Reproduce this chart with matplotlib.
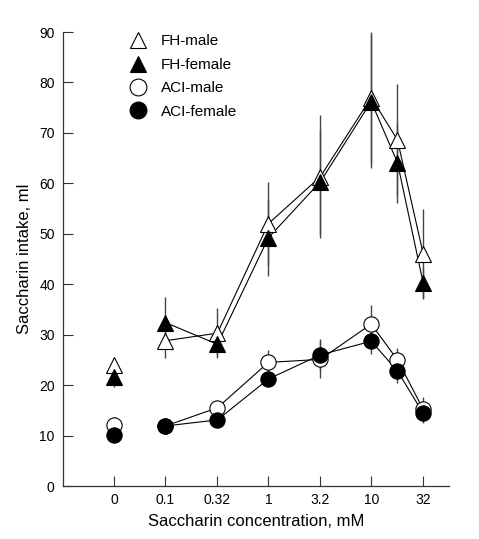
import numpy as np
import matplotlib
matplotlib.use("Agg")
import matplotlib.pyplot as plt

plt.rcParams['font.family'] = ['Liberation Sans', 'DejaVu Sans']

# Data
conc_labels = ["0", "0.1", "0.32", "1", "3.2", "10", "32"]
conc_ticks = [0, 0.1, 0.32, 1, 3.2, 10, 32]
conc = [0, 0.1, 0.32, 1, 3.2, 10, 18, 32]

fh_male = [24.0, 28.8, 30.3, 52.0, 61.3, 77.0, 68.6, 46.0]
fh_male_err = [1.0, 3.4, 5.0, 8.3, 12.2, 13.0, 11.0, 9.0]
fh_female = [21.7, 32.4, 28.1, 49.2, 60.3, 76.2, 64.1, 40.2]
fh_female_err = [2.0, 5.0, 2.3, 7.6, 10.3, 13.2, 7.9, 3.0]
aci_male = [12.1, 11.9, 15.5, 24.5, 25.1, 32.1, 25.0, 15.2]
aci_male_err = [1.5, 0.5, 1.0, 2.5, 3.6, 3.8, 2.4, 2.5]
aci_female = [10.2, 11.9, 13.1, 21.2, 26.0, 28.7, 22.8, 14.4]
aci_female_err = [0.5, 0.5, 1.0, 1.0, 3.1, 2.5, 2.4, 1.9]

ZERO_POS = 10 ** -1.5  # where the "0" concentration is placed on the log axis


def xpos(c):
    return np.array([ZERO_POS if v == 0 else v for v in c], dtype=float)


fig = plt.figure(figsize=(4.79, 5.39), dpi=100)
ax = fig.add_axes([63 / 479, 1 - 486 / 539, (449 - 63) / 479, (486 - 32) / 539])
ax.set_xscale('log')

x = xpos(conc)

series = [
    (fh_male, fh_male_err, '^', 'white', 'FH-male'),
    (fh_female, fh_female_err, '^', 'black', 'FH-female'),
    (aci_male, aci_male_err, 'o', 'white', 'ACI-male'),
    (aci_female, aci_female_err, 'o', 'black', 'ACI-female'),
]

handles = []
for vals, err, mk, fc, lab in series:
    vals = np.array(vals)
    err = np.array(err)
    ax.errorbar(x, vals, yerr=err, fmt='none', ecolor='#444444', elinewidth=1.0,
                capsize=0, zorder=1)
    ax.plot(x[1:], vals[1:], color='black', lw=0.8, zorder=2)
    h, = ax.plot(x, vals, linestyle='none', marker=mk, ms=11, mfc=fc, mec='black',
                 mew=0.8, zorder=3, label=lab)
    handles.append(h)

ax.set_xlim(0.0101, 57)
ax.set_ylim(0, 90)
ax.set_xticks(xpos(conc_ticks))
ax.set_xticklabels(conc_labels)
ax.xaxis.set_minor_locator(matplotlib.ticker.NullLocator())
ax.set_yticks(np.arange(0, 91, 10))

for s in ['top', 'right']:
    ax.spines[s].set_visible(False)
for s in ['left', 'bottom']:
    ax.spines[s].set_linewidth(0.9)
    ax.spines[s].set_color('#333333')

ax.tick_params(axis='both', direction='in', length=7, width=0.8, color='#333333',
               labelsize=10)
ax.tick_params(axis='x', pad=5)
ax.tick_params(axis='y', pad=6)

ax.set_xlabel('Saccharin concentration, mM', fontsize=12, labelpad=5)
ax.set_ylabel('Saccharin intake, ml', fontsize=12, labelpad=5)

leg = ax.legend(handles=handles, loc='upper left', bbox_to_anchor=(0.135, 1.025),
                frameon=False, fontsize=11, handlelength=1.2, handletextpad=0.9,
                labelspacing=0.62, numpoints=1, markerscale=1.1)

fig.savefig('out.png', dpi=100)
